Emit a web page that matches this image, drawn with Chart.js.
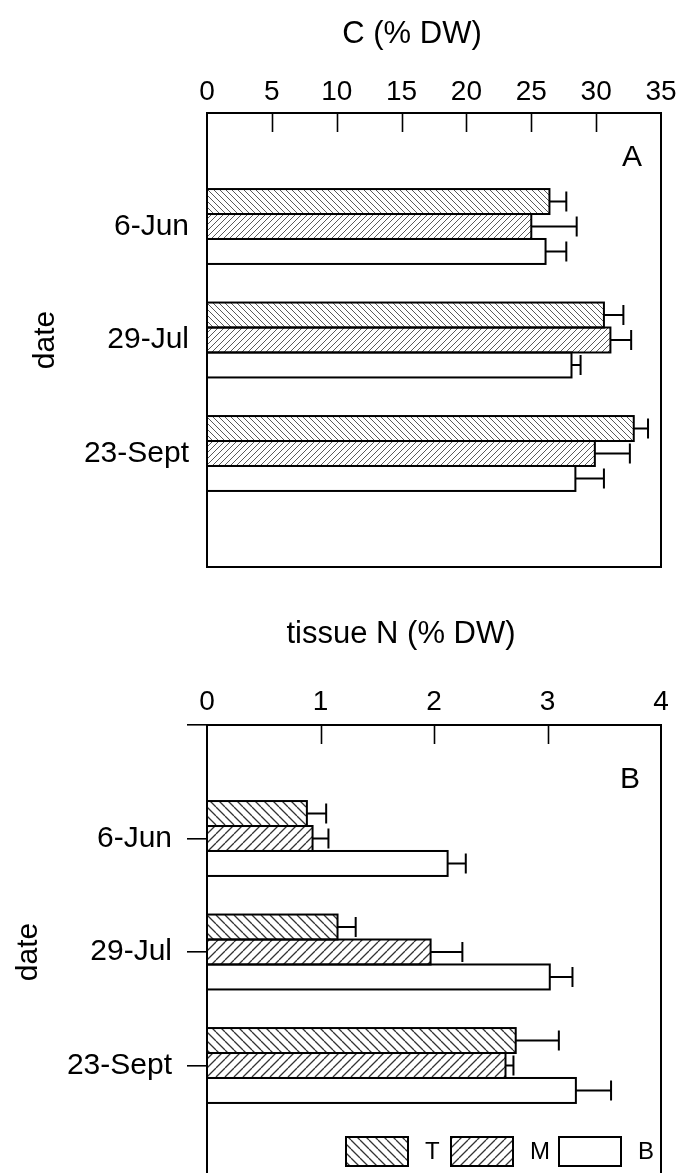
<!DOCTYPE html>
<html>
<head>
<meta charset="utf-8">
<script src="https://cdn.jsdelivr.net/npm/chart.js@4.4.1/dist/chart.umd.min.js"></script>
<style>
  html, body { margin: 0; padding: 0; background: #fff; overflow: hidden; width: 688px; height: 1173px; }
  canvas { position: absolute; left: 0; }
  #carbon { top: 0; }
  #nitrogen { top: 600px; }
</style>
</head>
<body>
<canvas id="carbon" width="688" height="600"></canvas>
<canvas id="nitrogen" width="688" height="600"></canvas>
<script>
// Sampling dates and tissue sections (T, M, B)
const dates = ['6-Jun', '29-Jul', '23-Sept'];
const seriesNames = ['T', 'M', 'B'];

// Panel A: carbon content (% DW), mean and +SE
const carbonT = [26.4, 30.6, 32.9];
const carbonTErr = [1.3, 1.5, 1.1];
const carbonM = [25.0, 31.1, 29.9];
const carbonMErr = [3.5, 1.6, 2.7];
const carbonB = [26.1, 28.1, 28.4];
const carbonBErr = [1.6, 0.7, 2.2];
const carbonMax = 35, carbonStep = 5;

// Panel B: tissue nitrogen (% DW), mean and +SE
const nitrogenT = [0.88, 1.15, 2.72];
const nitrogenTErr = [0.17, 0.16, 0.38];
const nitrogenM = [0.93, 1.97, 2.63];
const nitrogenMErr = [0.14, 0.28, 0.07];
const nitrogenB = [2.12, 3.02, 3.25];
const nitrogenBErr = [0.16, 0.20, 0.31];
const nitrogenMax = 4, nitrogenStep = 1;

Chart.defaults.font.family = "'Liberation Sans', Arial, Helvetica, sans-serif";
Chart.defaults.color = '#000';

// diagonal hatch fill: 'back' = \\\ , 'fwd' = ///
function hatch(dir, size, color, width) {
  const c = document.createElement('canvas');
  c.width = c.height = size;
  const g = c.getContext('2d');
  g.fillStyle = '#fff';
  g.fillRect(0, 0, size, size);
  g.strokeStyle = color;
  g.lineWidth = width;
  g.beginPath();
  for (let k = -1; k <= 1; k++) {
    if (dir === 'back') { g.moveTo(k * size, 0); g.lineTo(k * size + size, size); }
    else { g.moveTo(k * size, size); g.lineTo(k * size + size, 0); }
  }
  g.stroke();
  return g.createPattern(c, 'repeat');
}

// outlines, error bars, inner ticks, frame, titles, panel letter, legend
const panelDecor = {
  id: 'panelDecor',
  afterDatasetsDraw(chart, args, o) {
    const ctx = chart.ctx, xs = chart.scales.x, a = chart.chartArea;
    ctx.save();
    ctx.strokeStyle = '#000';
    chart.data.datasets.forEach((ds, i) => {
      const meta = chart.getDatasetMeta(i);
      meta.data.forEach((bar, j) => {
        const v = ds.data[j];
        if (v == null) return;
        const p = bar.getProps(['x', 'y', 'base', 'height'], true);
        ctx.lineWidth = 2;
        ctx.strokeRect(p.base, p.y - p.height / 2, p.x - p.base, p.height);
        const xe = xs.getPixelForValue(v + ds.errors[j]);
        ctx.beginPath();
        ctx.moveTo(p.x, p.y); ctx.lineTo(xe, p.y);
        ctx.moveTo(xe, p.y - o.cap / 2); ctx.lineTo(xe, p.y + o.cap / 2);
        ctx.stroke();
      });
    });
    // inward tick marks along the top axis
    ctx.lineWidth = 1.6;
    ctx.beginPath();
    xs.ticks.forEach(t => {
      if (t.value <= xs.min || t.value >= xs.max) return;
      const px = Math.round(xs.getPixelForValue(t.value)) + 0.5;
      ctx.moveTo(px, a.top); ctx.lineTo(px, a.top + 19);
    });
    ctx.stroke();
    // frame
    ctx.lineWidth = 2;
    ctx.strokeRect(a.left, a.top, a.right - a.left, a.bottom - a.top);
    ctx.restore();
  },
  afterDraw(chart, args, o) {
    const ctx = chart.ctx;
    ctx.save();
    ctx.fillStyle = '#000';
    ctx.textBaseline = 'middle';
    ctx.textAlign = 'center';
    ctx.font = "31px 'Liberation Sans', Arial, sans-serif";
    ctx.fillText(o.title, o.titleX, o.titleY);
    ctx.font = "30px 'Liberation Sans', Arial, sans-serif";
    ctx.fillText(o.letter, o.letterX, o.letterY);
    if (o.legend) {
      const L = o.legend;
      ctx.font = "24px 'Liberation Sans', Arial, sans-serif";
      ctx.textAlign = 'left';
      chart.data.datasets.forEach((ds, i) => {
        const x = L.x[i];
        ctx.fillStyle = ds.backgroundColor;
        ctx.fillRect(x, L.y, L.w, L.h);
        ctx.lineWidth = 2;
        ctx.strokeStyle = '#000';
        ctx.strokeRect(x, L.y, L.w, L.h);
        ctx.fillStyle = '#000';
        ctx.fillText(ds.label, x + L.w + 17, L.y + L.h / 2 + 1);
      });
    }
    ctx.restore();
  }
};

function makePanel(id, opts) {
  const axisLabels = ['', ...dates, ''];
  const datasets = opts.series.map((s, i) => ({
    label: seriesNames[i],
    data: [null, ...s[0], null],
    errors: [null, ...s[1], null],
    backgroundColor: opts.fills[i],
    borderWidth: 0,
    categoryPercentage: 0.66,
    barPercentage: 1.0
  }));
  return new Chart(document.getElementById(id), {
    type: 'bar',
    data: { labels: axisLabels, datasets },
    options: {
      indexAxis: 'y',
      responsive: false,
      animation: false,
      layout: { padding: { left: opts.padLeft, right: 27, top: 0, bottom: opts.padBottom } },
      scales: {
        x: {
          type: 'linear',
          position: 'top',
          min: 0,
          max: opts.max,
          grid: { display: false },
          border: { display: false },
          ticks: { stepSize: opts.step, font: { size: 28 }, color: '#000', padding: opts.tickPad, maxRotation: 0 },
          afterFit: s => { s.height = opts.areaTop; }
        },
        y: {
          type: 'category',
          offset: false,
          grid: opts.yTicks
            ? { display: true, offset: false, drawOnChartArea: false, drawTicks: true, tickLength: 20, color: '#000', lineWidth: 1.6 }
            : { display: false },
          border: { display: false },
          ticks: { autoSkip: false, font: { size: 30 }, color: '#000', padding: opts.yPad },
          title: { display: true, text: 'date', font: { size: 30 }, color: '#000', padding: { top: opts.dateGap, bottom: 0 } },
          afterFit: s => {
            s.width = 207 - opts.padLeft;
            s.paddingTop = 0;
            s.paddingBottom = 0;
          }
        }
      },
      plugins: {
        legend: { display: false },
        tooltip: { enabled: false },
        panelDecor: opts.decor
      }
    },
    plugins: [panelDecor]
  });
}

makePanel('carbon', {
  series: [[carbonT, carbonTErr], [carbonM, carbonMErr], [carbonB, carbonBErr]],
  fills: [hatch('back', 6, '#5a5a5a', 1), hatch('fwd', 6, '#5a5a5a', 1), '#ffffff'],
  max: carbonMax, step: carbonStep,
  padLeft: 10, padBottom: 33, areaTop: 113, tickPad: -4, yPad: 10, dateGap: 18, yTicks: false,
  decor: { cap: 20, title: 'C (% DW)', titleX: 412, titleY: 34, letter: 'A', letterX: 632, letterY: 158 }
});

makePanel('nitrogen', {
  series: [[nitrogenT, nitrogenTErr], [nitrogenM, nitrogenMErr], [nitrogenB, nitrogenBErr]],
  fills: [hatch('back', 9, '#333333', 1.3), hatch('fwd', 9, '#333333', 1.3), '#ffffff'],
  max: nitrogenMax, step: nitrogenStep,
  padLeft: 11, padBottom: 21, areaTop: 125, tickPad: -2, yPad: 15, dateGap: 0, yTicks: true,
  decor: { cap: 20, title: 'tissue N (% DW)', titleX: 401, titleY: 34, letter: 'B', letterX: 630, letterY: 180,
           legend: { x: [346, 451, 559], y: 537, w: 62, h: 29 } }
});
</script>
</body>
</html>
